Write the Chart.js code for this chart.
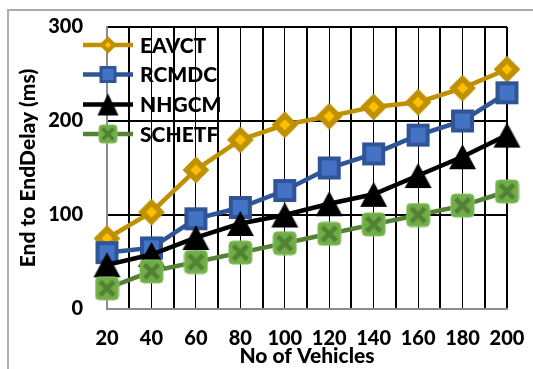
<!DOCTYPE html>
<html>
<head>
<meta charset="utf-8">
<script src="https://cdn.jsdelivr.net/npm/chart.js@4.4.1/dist/chart.umd.min.js"></script>
<style>
  html, body { margin: 0; padding: 0; background: #fff; overflow: hidden; }
  #wrap { position: relative; width: 533px; height: 369px; overflow: hidden; }
  #frame { position: absolute; left: 7px; top: 9px; width: 620px; height: 420px;
           border-left: 2px solid #ababab; border-top: 2px solid #ababab; }
  #c { position: absolute; left: 0; top: 0; }
</style>
</head>
<body>
<div id="wrap">
  <div id="frame"></div>
  <canvas id="c" width="533" height="369"></canvas>
</div>
<script>
// Number of vehicles (x categories)
const vehicles = [20, 40, 60, 80, 100, 120, 140, 160, 180, 200];
// End-to-end delay (ms) per scheme
const eavct  = [75, 103, 148, 180, 196, 205, 215, 220, 235, 255];
const rcmdc  = [60, 65, 96, 108, 126, 150, 165, 185, 200, 230];
const nhgcm  = [47, 58, 76, 91, 100, 112, 122, 142, 162, 185];
const schetf = [22, 40, 50, 60, 70, 80, 90, 100, 110, 125];
const yTicks = [0, 100, 200, 300];
const seriesNames = ['EAVCT', 'RCMDC', 'NHGCM', 'SCHETF'];

const FONT = 'Lato';
const WEIGHT = '900';

// ---- marker images ----
function makeCanvas(w, h) {
  const c = document.createElement('canvas');
  c.width = w; c.height = h;
  return c;
}
function diamondMarker(half, lw) {
  const s = Math.ceil(2 * half + lw * 1.6) + 2;
  const S = s % 2 ? s + 1 : s;
  const c = makeCanvas(S, S), g = c.getContext('2d');
  const m = S / 2;
  g.beginPath();
  g.moveTo(m, m - half); g.lineTo(m + half, m); g.lineTo(m, m + half); g.lineTo(m - half, m);
  g.closePath();
  g.fillStyle = '#FFC000'; g.fill();
  g.lineJoin = 'miter'; g.lineWidth = lw; g.strokeStyle = '#BF9000'; g.stroke();
  return c;
}
function squareMarker(side, lw) {
  const S = Math.ceil(side + lw) + 2;
  const c = makeCanvas(S, S), g = c.getContext('2d');
  const o = (S - side) / 2;
  g.fillStyle = '#4472C4'; g.fillRect(o, o, side, side);
  g.lineWidth = lw; g.strokeStyle = '#2F5597'; g.strokeRect(o, o, side, side);
  return c;
}
function triangleMarker(w, h) {
  const W = w + 2, H = h + 2;
  const c = makeCanvas(W, H), g = c.getContext('2d');
  g.beginPath();
  g.moveTo(W / 2, 1); g.lineTo(W - 1, H - 1); g.lineTo(1, H - 1); g.closePath();
  g.fillStyle = '#000'; g.fill();
  return c;
}
function crossBoxMarker(side) {
  const S = side + 2;
  const c = makeCanvas(S, S), g = c.getContext('2d');
  const r = side * 0.17;
  g.beginPath();
  if (g.roundRect) g.roundRect(1, 1, side, side, r); else g.rect(1, 1, side, side);
  g.fillStyle = '#70AD47'; g.fill();
  g.lineWidth = 1; g.strokeStyle = '#8CC168'; g.stroke();
  const a = 1 + side * 0.2, b = 1 + side * 0.8;
  g.beginPath();
  g.moveTo(a, a); g.lineTo(b, b); g.moveTo(b, a); g.lineTo(a, b);
  g.lineWidth = side * 0.2; g.lineCap = 'butt'; g.strokeStyle = '#548235'; g.stroke();
  return c;
}

const chartMarkers = [diamondMarker(9.5, 5.5), squareMarker(19, 4), triangleMarker(27, 25), crossBoxMarker(23)];
const legendMarkers = [diamondMarker(6, 4), squareMarker(14, 3), triangleMarker(21, 22), crossBoxMarker(18)];
const lineColors = ['#BF9000', '#2F5597', '#000000', '#548235'];
const seriesData = [eavct, rcmdc, nhgcm, schetf];

const datasets = seriesData.map((vals, i) => ({
  label: seriesNames[i],
  data: vals.map((v, k) => ({ x: vehicles[k], y: v })),
  borderColor: lineColors[i],
  backgroundColor: lineColors[i],
  borderWidth: 4.5,
  pointStyle: chartMarkers[i],
  pointRadius: 10,
  pointHoverRadius: 10,
  tension: 0,
  fill: false,
  clip: false,
  order: seriesNames.length - i   // later series drawn on top
}));

// legend drawn inside the plot area, each entry = line + marker + name
const insideLegend = {
  id: 'insideLegend',
  afterDraw(chart) {
    const g = chart.ctx;
    const rows = [45, 74.5, 104.5, 134];
    g.save();
    rows.forEach((y, i) => {
      g.beginPath();
      g.moveTo(83, y); g.lineTo(133, y);
      g.lineWidth = 4.5; g.strokeStyle = lineColors[i]; g.stroke();
      const m = legendMarkers[i];
      g.drawImage(m, 108 - m.width / 2, y - m.height / 2);
      g.fillStyle = '#000';
      g.font = WEIGHT + ' 21px ' + FONT;
      g.textBaseline = 'middle';
      g.textAlign = 'left';
      g.fillText(seriesNames[i], 140, y + 1);
    });
    g.restore();
  }
};

new Chart(document.getElementById('c'), {
  type: 'line',
  data: { datasets },
  plugins: [insideLegend],
  options: {
    responsive: false,
    animation: false,
    devicePixelRatio: 1,
    layout: { padding: { left: 0, right: 26, top: 27, bottom: 0 } },
    plugins: { legend: { display: false }, tooltip: { enabled: false } },
    scales: {
      x: {
        type: 'linear',
        min: vehicles[0],
        max: vehicles[vehicles.length - 1],
        afterFit(scale) { scale.height = 60; scale.paddingLeft = 0; scale.paddingRight = 0; },
        ticks: {
          stepSize: 10,
          autoSkip: false,
          maxRotation: 0,
          padding: 18,
          color: '#000',
          font: { family: FONT, size: 20, weight: WEIGHT },
          callback: v => vehicles.includes(v) ? String(v) : ''
        },
        grid: {
          drawTicks: false,
          color: ctx => ctx.tick && ctx.tick.value === vehicles[0] ? '#8c8c8c' : '#000',
          lineWidth: ctx => (ctx.tick && vehicles.includes(ctx.tick.value) && ctx.tick.value !== vehicles[vehicles.length - 1]) ? 1 : 2
        },
        border: { display: true, color: '#8c8c8c', width: 2 },
        title: {
          display: true,
          text: 'No of Vehicles',
          color: '#000',
          font: { family: FONT, size: 21, weight: WEIGHT, lineHeight: 1.2 },
          padding: { top: 0, bottom: 0 }
        }
      },
      y: {
        min: yTicks[0],
        max: yTicks[yTicks.length - 1],
        afterFit(scale) { scale.width = 107; scale.paddingTop = 0; scale.paddingBottom = 0; },
        afterBuildTicks(scale) { scale.ticks = yTicks.map(v => ({ value: v })); },
        ticks: {
          padding: 24,
          color: '#000',
          font: { family: FONT, size: 20, weight: WEIGHT }
        },
        grid: {
          drawTicks: false,
          color: ctx => ctx.tick && ctx.tick.value === 0 ? '#8c8c8c' : '#000',
          lineWidth: 2
        },
        border: { display: true, color: '#8c8c8c', width: 2 },
        title: {
          display: true,
          text: 'End to EndDelay (ms)',
          color: '#000',
          font: { family: FONT, size: 21, weight: WEIGHT, lineHeight: 1.2 },
          padding: { top: 16, bottom: 0 }
        }
      }
    }
  }
});
</script>
</body>
</html>
